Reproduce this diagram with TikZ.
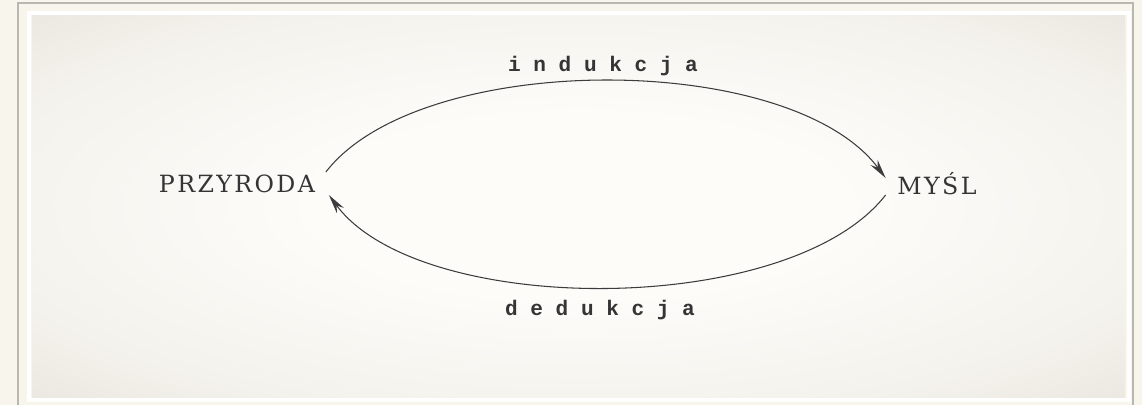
\documentclass[tikz,border=0pt]{standalone}
\usepackage{fontspec}
\setmainfont{DejaVu Serif}
\newfontfamily\monof{Liberation Mono}
\usetikzlibrary{arrows.meta}
\definecolor{cream}{HTML}{F7F5EC}
\definecolor{framegrey}{HTML}{B9B8B0}
\definecolor{vw}{HTML}{FDFCF9}
\definecolor{va}{HTML}{F4F2EC}
\definecolor{vb}{HTML}{E5E2DB}
\definecolor{vd}{HTML}{D9D5CE}
\definecolor{vc}{HTML}{C2C0B9}
\definecolor{inkc}{HTML}{353535}
\definecolor{linec}{HTML}{3C3C3C}
\pgfdeclareradialshading{vignette}{\pgfpoint{0bp}{0bp}}{color(0bp)=(vw); color(12bp)=(vw); color(28bp)=(va); color(40bp)=(vb); color(50bp)=(vd); color(72bp)=(vc)}
\tikzset{
  word/.style={text=inkc, inner sep=2pt, font=\fontsize{13.5}{16}\selectfont\addfontfeature{LetterSpace=10}},
  lbl/.style={text=inkc, inner sep=1pt, font=\monof\bfseries\fontsize{12}{14}\selectfont},
  arr/.style={draw=linec, line width=0.6pt, -{Stealth[length=11pt,width=5pt]}}
}
\begin{document}
\begin{tikzpicture}[x=0.02cm,y=-0.02cm]
\useasboundingbox (0,0) rectangle (1142,405);
\fill[cream] (0,0) rectangle (1142,405);
\draw[framegrey, line width=1.1pt] (18,3) rectangle (1133,412);
\draw[white, line width=1.8pt] (29,13) rectangle (1129,400);
\shade[shading=vignette] (32,16) rectangle (1125,397);
\node[word] (prz) at (237,184) {PRZYRODA};
\node[word] (mys) at (937,184) {MYŚL};
\node[lbl] (ind) at (603,66) {i n d u k c j a};
\node[lbl] (ded) at (600,310) {d e d u k c j a};
\draw[arr] ([shift={(7,-12)}]prz.east) .. controls (420,50) and (790,50) .. ([shift={(-8,-6)}]mys.west);
\draw[arr] ([shift={(-8,11)}]mys.west) .. controls (790,318) and (420,318) .. ([shift={(10,11)}]prz.east);
\end{tikzpicture}
\end{document}
